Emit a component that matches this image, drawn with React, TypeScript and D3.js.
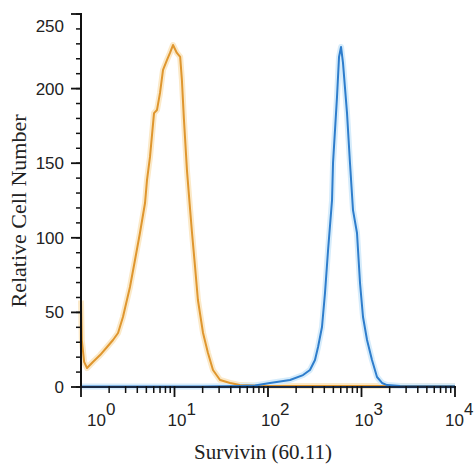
import React from "react";
import * as d3 from "d3";

// Isotype control (orange): fluorescence intensity, relative cell number
const isotypeIntensity = [1.0, 1.02, 1.08, 1.16, 1.34, 1.6, 1.9, 2.2, 2.49, 2.81, 3.34, 3.78, 4.27, 4.84, 5.08, 5.47, 6.04, 6.5, 7.0, 7.54, 8.32, 8.95, 9.64, 10.6, 11.5, 12.0, 12.6, 13.6, 14.7, 15.4, 16.6, 17.8, 20.2, 22.8, 25.8, 30.7, 39.3, 50.1, 82, 200, 1000, 10000];
const isotypeCount = [58, 31.5, 16.8, 12.7, 16.8, 21.4, 26.8, 31.5, 36.2, 46.9, 67.0, 85.1, 103.2, 123.3, 138.7, 154.2, 183.6, 185.7, 197.1, 212.5, 219.2, 223.9, 229.2, 223.9, 221.2, 205.8, 180, 145, 118.6, 103.2, 80.4, 58.3, 36.2, 22.8, 11.4, 4.7, 2.7, 1.3, 0.8, 0.6, 0.6, 0.6];

// Survivin (60.11) stained (blue)
const survivinIntensity = [1.0, 20, 50.2, 72.6, 105, 172, 237, 281, 318, 343, 378, 407, 439, 484, 496, 547, 575, 604, 634, 700, 753, 811, 895, 964, 1038, 1146, 1295, 1465, 1657, 1874, 2582, 10000];
const survivinCount = [0.3, 0.4, 0.7, 1.0, 2.7, 4.7, 8.0, 11.4, 18.1, 26.8, 40.2, 63.0, 91.8, 125.3, 150.1, 194.4, 221.2, 227.9, 217.2, 183.6, 150.1, 118.6, 103.2, 69.7, 46.9, 31.5, 18.1, 6.7, 2.7, 1.3, 0.7, 0.5];

const yTicks = [0, 50, 100, 150, 200, 250];
const yMinorTicks = d3.range(0, 251, 10);
const xDecades = [0, 1, 2, 3, 4];
const xTitle = "Survivin (60.11)";
const yTitle = "Relative Cell Number";

const W = 474;
const H = 466;

export default function App() {
  const x = d3.scaleLog().domain([1, 1e4]).range([81, 455]);
  const y = d3.scaleLinear().domain([0, 250]).range([387, 14]);

  const isoData = isotypeIntensity.map((v, i) => [v, isotypeCount[i]] as [number, number]);
  const surData = survivinIntensity.map((v, i) => [v, survivinCount[i]] as [number, number]);
  const line = d3
    .line<[number, number]>()
    .x((d) => x(d[0]))
    .y((d) => y(d[1]));

  const xMinor: number[] = [];
  for (let e = 0; e < 4; e++) {
    for (let m = 2; m <= 9; m++) xMinor.push(m * Math.pow(10, e));
  }

  const tickFont = "'Liberation Sans', Arial, sans-serif";
  const titleFont = "'Liberation Serif', 'Times New Roman', serif";
  const axisColor = "#111";

  const xLabelShift = (e: number) => (e === 0 ? 6 : e === 4 ? -10 : -7);

  return (
    <svg
      width={W}
      height={H}
      style={{ position: "absolute", left: 0, top: 0, background: "#fff" }}
    >
      {/* glows */}
      <path d={line(isoData) || ""} fill="none" stroke="#fbe9c8" strokeWidth={6} strokeLinejoin="round" />
      <path d={line(surData) || ""} fill="none" stroke="#d6ecfb" strokeWidth={6} strokeLinejoin="round" />
      {/* curves */}
      <path d={line(isoData) || ""} fill="none" stroke="#df962e" strokeWidth={2} strokeLinejoin="round" />
      <path d={line(surData) || ""} fill="none" stroke="#2e7dcc" strokeWidth={2} strokeLinejoin="round" />

      {/* y axis */}
      <line x1={81} x2={81} y1={y(250) - 1} y2={y(0) + 1} stroke={axisColor} strokeWidth={2} />
      {yMinorTicks.map((t) => (
        <line key={"ym" + t} x1={76} x2={82} y1={y(t)} y2={y(t)} stroke={axisColor} strokeWidth={1.5} />
      ))}
      {yTicks.map((t) => (
        <g key={"y" + t}>
          <line x1={71} x2={81} y1={y(t)} y2={y(t)} stroke={axisColor} strokeWidth={1.8} />
          <text
            x={64}
            y={y(t) + (t === 250 ? 12 : 0)}
            dy="0.35em"
            textAnchor="end"
            fontFamily={tickFont}
            fontSize={17}
            fill="#222"
          >
            {t}
          </text>
        </g>
      ))}

      {/* x axis */}
      <line x1={80} x2={456} y1={387} y2={387} stroke="#1a2a44" strokeWidth={2.2} />
      {xMinor.map((t) => (
        <line key={"xm" + t} x1={x(t)} x2={x(t)} y1={386} y2={393} stroke={axisColor} strokeWidth={1.5} />
      ))}
      {xDecades.map((e) => (
        <g key={"x" + e}>
          <line x1={x(Math.pow(10, e))} x2={x(Math.pow(10, e))} y1={386} y2={397} stroke={axisColor} strokeWidth={1.8} />
          <text
            x={x(Math.pow(10, e)) + xLabelShift(e)}
            y={426}
            fontFamily={tickFont}
            fontSize={17}
            fill="#222"
          >
            <tspan>10</tspan>
            <tspan dy={-11}>{e}</tspan>
          </text>
        </g>
      ))}

      {/* titles */}
      <text
        x={263}
        y={459}
        textAnchor="middle"
        fontFamily={titleFont}
        fontSize={21}
        fill="#222"
      >
        {xTitle}
      </text>
      <text
        transform="translate(26,211) rotate(-90)"
        textAnchor="middle"
        fontFamily={titleFont}
        fontSize={22}
        fill="#222"
      >
        {yTitle}
      </text>
    </svg>
  );
}
